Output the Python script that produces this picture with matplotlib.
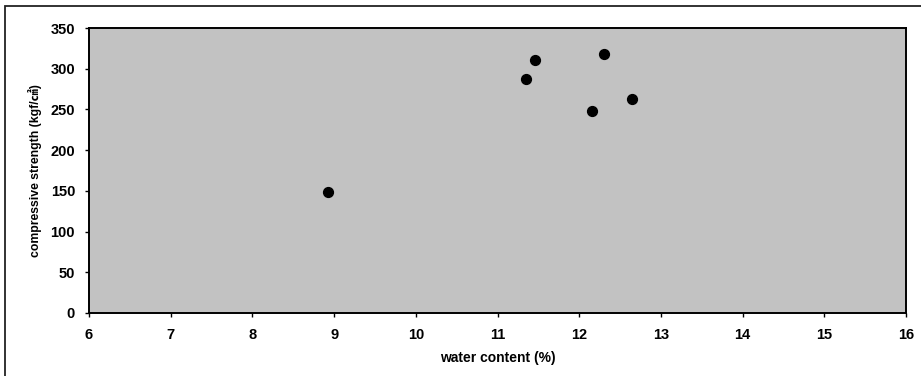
import matplotlib
matplotlib.use("Agg")
import matplotlib.pyplot as plt
from matplotlib.patches import Rectangle

# water content (%) vs compressive strength (kgf/cm2)
water = [8.93, 11.35, 11.46, 12.16, 12.30, 12.65]
strength = [149, 287, 311, 248, 318, 263]

xticks = [6, 7, 8, 9, 10, 11, 12, 13, 14, 15, 16]
yticks = [0, 50, 100, 150, 200, 250, 300, 350]

plt.rcParams['font.family'] = ['Liberation Sans', 'Noto Sans CJK KR', 'DejaVu Sans']

fig = plt.figure(figsize=(9.21, 3.76), dpi=100)
ax = fig.add_axes([89/921, 1-313/376, (906-89)/921, (313-28)/376])
ax.set_facecolor('#c2c2c2')

ax.scatter(water, strength, s=50, color='black', zorder=3)

ax.set_xlim(6, 16)
ax.set_ylim(0, 350)
ax.set_xticks(xticks)
ax.set_yticks(yticks)
ax.tick_params(axis='both', labelsize=10.5, length=3, width=1, direction='out')
ax.tick_params(axis='x', pad=8)
ax.tick_params(axis='y', pad=7)
for lab in ax.get_xticklabels() + ax.get_yticklabels():
    lab.set_fontweight('bold')

ax.set_xlabel('water content (%)', fontsize=10, fontweight='bold', labelpad=6)
ax.set_ylabel('compressive strength (kgf/㎠)', fontsize=8.8, fontweight='bold', labelpad=6)

for sp in ax.spines.values():
    sp.set_linewidth(1.4)
    sp.set_color('black')

# outer frame of the scanned figure (only left and top edges visible)
frame = Rectangle((5/921, -0.5), 2, 1.5 - 6/376, transform=fig.transFigure,
                  fill=False, edgecolor='#222222', linewidth=1.3)
fig.add_artist(frame)

fig.savefig('out.png', dpi=100)
